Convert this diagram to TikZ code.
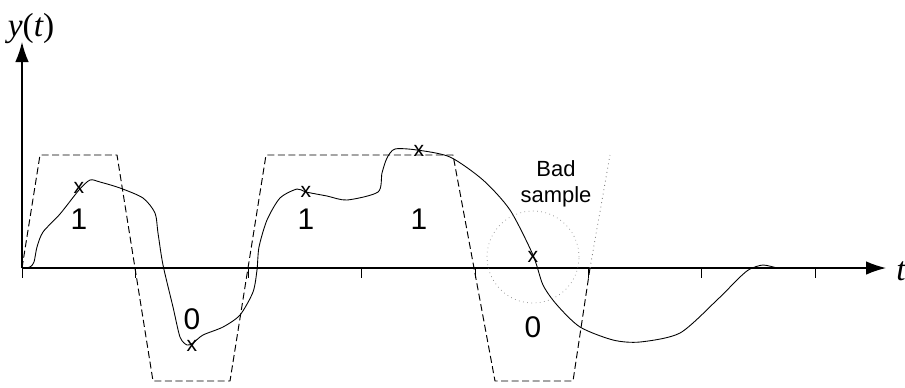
\documentclass[tikz,border=0pt]{standalone}
\usepackage{fontspec}
\setmainfont{Liberation Sans}
\newfontfamily\timesfont{Liberation Serif}
\newcommand{\tvar}[1]{{\timesfont\itshape #1}}
\usetikzlibrary{arrows.meta,positioning}

\tikzset{
  axis/.style={line width=0.7pt,-{Latex[length=0.4cm,width=0.27cm]}},
  pulse/.style={black,line width=0.55pt,dash pattern=on 4pt off 2pt},
  bit/.style={font=\fontsize{17}{19}\selectfont,inner sep=0pt},
  xmark/.style={font=\fontsize{12}{14}\selectfont,inner sep=0pt},
}

\begin{document}
\begin{tikzpicture}[x=0.02cm,y=-0.02cm]
\useasboundingbox (0,0) rectangle (905,387);
% axes
\coordinate (O) at (22,268);
\coordinate (Ytip) at (22,42);
\coordinate (Ttip) at (886,268);
\draw[axis] (O) -- (Ytip);
\draw[axis] (O) -- (Ttip);
\node (ylab) at (31,29) {\fontsize{19}{21}\selectfont\tvar{y}{\timesfont(}\tvar{t}{\timesfont)}};
\node[anchor=west,inner sep=0pt] (tlab) at (896,271) {\fontsize{19}{21}\selectfont\tvar{t}};
\foreach \k in {0,...,7}
  \draw[line width=0.5pt] (22+113.3*\k,268) -- (22+113.3*\k,278);

% ideal pulses
\draw[pulse] (22,268) -- (40,155) -- (117,155) -- (153,381) -- (230,381)
  -- (266,155) -- (453,155) -- (495,381) -- (573,381) -- (590,268);
\draw[gray,line width=0.5pt,dotted] (590,268) -- (610,155);

% received signal
\draw[line width=0.5pt] plot[smooth,tension=0.45] coordinates {
  (22,268) (30,267) (34,262) (37,247) (43,232) (60,214) (79,190) (90,180)
  (100,182) (120,188) (143,198) (155,213) (158,233) (163,265) (173,307)
  (180,337) (187,345) (193,343) (203,335) (223,327) (240,315) (253,292)
  (257,270) (259,247) (267,220) (280,198) (297,189) (306,192) (327,196)
  (347,200) (378,192) (382,173) (387,158) (395,149) (417,150) (450,157)
  (483,180) (510,210) (533,255) (543,285) (557,305) (580,327) (613,340)
  (640,342) (680,333) (717,300) (740,277) (750,269) (763,265) (777,268)};

% samples
\node[xmark] (s1) at (79,188) {x};
\node[xmark] (s2) at (192,346) {x};
\node[xmark] (s3) at (306,192) {x};
\node[xmark] (s4) at (419,151) {x};
\node[xmark] (s5) at (533,257) {x};

\node[bit] (b1) at (79,219) {1};
\node[bit] (b2) at (192,319) {0};
\node[bit] (b3) at (306,219) {1};
\node[bit] (b4) at (419,219) {1};
\node[bit] (b5) at (533,327) {0};

% bad sample
\draw[gray,line width=0.4pt,dotted] (s5) circle[radius=0.92cm];
\node[align=center,font=\fontsize{12.5}{14.5}\selectfont] (bad) at (556,184) {Bad\\sample};
\end{tikzpicture}
\end{document}
